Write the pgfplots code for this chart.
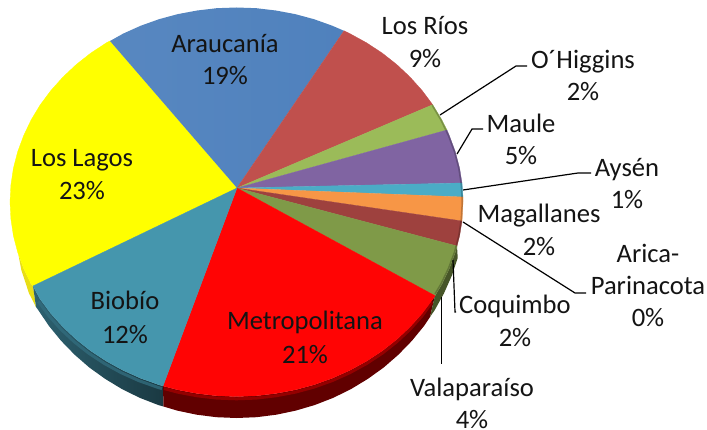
\documentclass[border=0pt]{standalone}
\usepackage{pgfplots}
\pgfplotsset{compat=1.18}
\usepackage{fontspec}
\setmainfont{Carlito}
\definecolor{cBlue}{HTML}{4F81BD}
\definecolor{cRed}{HTML}{C0504D}
\definecolor{cLgreen}{HTML}{9BBB59}
\definecolor{cPurple}{HTML}{8064A2}
\definecolor{cTeal}{HTML}{4BACC6}
\definecolor{cOrange}{HTML}{F79646}
\definecolor{cBrown}{HTML}{9E413E}
\definecolor{cOlive}{HTML}{7F9A48}
\definecolor{cBio}{HTML}{4596AD}
\definecolor{cMet}{HTML}{FF0404}
\definecolor{cYel}{HTML}{FFFF00}
\newcommand{\lab}[3]{\node[anchor=base,yshift=-1.5pt,font=\fontsize{26.6}{26.6}\selectfont,inner sep=0pt,text=black!92] at (axis cs:#1,#2) {#3};}
\begin{document}
\begin{tikzpicture}
\begin{axis}[scale only axis,width=707pt,height=430pt,axis lines=none,
  xmin=0,xmax=707,ymin=0,ymax=430,y dir=reverse,clip=false]
\path (axis cs:0,0) rectangle (axis cs:707,430);
% sides
\addplot[fill=yellow!90!black,draw=none] coordinates {(18.5,255)(21.3,270)(29.0,293.3)(36,307)(33,286)(31.2,284.2)(23.7,268.5)} --cycle;
\addplot[left color=cBio!65!black,right color=cBio!38!black,draw=none] coordinates {(33,286)(36,307)(38.2,310.0)(48.9,325.9)(61.1,340.8)(74.6,354.7)(89.3,367.5)(105.2,378.9)(122.0,389.1)(139.7,397.8)(158.2,405.0)(163.5,406.5)(163,386)(159.0,384.8)(140.8,378.3)(123.2,370.4)(106.6,361.3)(90.9,351.0)(76.3,339.5)(63.0,327.0)(51.0,313.6)(40.3,299.3)} --cycle;
\addplot[fill=red!38!black,draw=none] coordinates {(163,386)(163.5,406.5)(177.2,410.6)(196.7,414.7)(216.5,417.2)(236.5,418)(256.5,417.2)(276.3,414.7)(295.8,410.6)(314.8,405.0)(333.3,397.8)(351.0,389.1)(367.8,378.9)(383.7,367.5)(398.4,354.7)(411.9,340.8)(424.1,325.9)(430,317)(435,295.7)(432.7,299.3)(422.0,313.6)(410.0,327.0)(396.7,339.5)(382.1,351.0)(366.4,361.3)(349.8,370.4)(332.2,378.3)(314.0,384.8)(295.1,389.9)(275.8,393.5)(256.3,395.8)(236.5,396.5)(216.7,395.8)(197.2,393.5)(177.9,389.9)} --cycle;
\addplot[fill=cOlive!55!black,draw=none] coordinates {(435,295.7)(430,317)(434.8,310.0)(444.0,293.3)(451.7,275.9)(457.7,257.9)(457,246)(455.3,252.3)(449.3,268.5)(441.8,284.2)} --cycle;
% bevel bands on the sides
\addplot[draw=cBio!72!black,line width=3pt,opacity=.8] coordinates {(38.5,301.5)(49.0,315.9)(61.0,329.3)(74.3,341.8)(88.9,353.3)(104.6,363.6)(121.2,372.7)(138.8,380.6)(157.0,387.1)(162,388.6)};
\addplot[draw=red!62!black,line width=3pt,opacity=.85] coordinates {(164,388.5)(177.9,392.2)(197.2,395.8)(216.7,398.1)(236.5,398.8)(256.3,398.1)(275.8,395.8)(295.1,392.2)(314.0,387.1)(332.2,380.6)(349.8,372.7)(366.4,363.6)(382.1,353.3)(396.7,341.8)(410.0,329.3)(422.0,315.9)(432,302)};
% top surface
\addplot[fill=cYel,draw=cYel,line width=.3pt] coordinates {(237,188)(33,286)(31.2,284.2)(23.7,268.5)(17.7,252.3)(13.4,235.8)(10.9,219.0)(10.0,202.0)(10.9,185.0)(13.4,168.2)(17.7,151.7)(23.7,135.5)(31.2,119.8)(40.3,104.7)(51.0,90.4)(63.0,77.0)(76.3,64.5)(90.9,53.0)(106.6,42.7)(110,41)} --cycle;
\addplot[left color=cBlue!95!white,right color=cBlue,draw=none] coordinates {(237,188)(110,41)(123.2,33.6)(140.8,25.7)(159.0,19.2)(177.9,14.1)(197.2,10.5)(216.7,8.2)(236.5,7.5)(256.3,8.2)(275.8,10.5)(295.1,14.1)(314.0,19.2)(332.2,25.7)(344,30.8)} --cycle;
\addplot[fill=cRed,draw=cRed,line width=.3pt] coordinates {(237,188)(344,30.8)(349.8,33.6)(366.4,42.7)(382.1,53.0)(396.7,64.5)(410.0,77.0)(422.0,90.4)(432.7,104.7)} --cycle;
\addplot[fill=cLgreen,draw=cLgreen,line width=.3pt] coordinates {(237,188)(432.7,104.7)(441.8,119.8)(447,130)} --cycle;
\addplot[fill=cPurple,draw=cPurple,line width=.3pt] coordinates {(237,188)(447,130)(449.3,135.5)(455.3,151.7)(459.6,168.2)(462,183)} --cycle;
\addplot[fill=cTeal,draw=cTeal,line width=.3pt] coordinates {(237,188)(462,183)(463,197)} --cycle;
\addplot[fill=cOrange,draw=cOrange,line width=.3pt] coordinates {(237,188)(463,197)(463.0,202.0)(462.1,219.0)(462,221)} --cycle;
\addplot[fill=cBrown,draw=cBrown,line width=.3pt] coordinates {(237,188)(462,221)(459.6,235.8)(457,246)} --cycle;
\addplot[fill=cOlive,draw=cOlive,line width=.3pt] coordinates {(237,188)(457,246)(455.3,252.3)(449.3,268.5)(441.8,284.2)(435,295.7)} --cycle;
\addplot[fill=cMet,draw=cMet,line width=.3pt] coordinates {(237,188)(435,295.7)(432.7,299.3)(422.0,313.6)(410.0,327.0)(396.7,339.5)(382.1,351.0)(366.4,361.3)(349.8,370.4)(332.2,378.3)(314.0,384.8)(295.1,389.9)(275.8,393.5)(256.3,395.8)(236.5,396.5)(216.7,395.8)(197.2,393.5)(177.9,389.9)(163,386)} --cycle;
\addplot[fill=cBio,draw=cBio,line width=.3pt] coordinates {(237,188)(163,386)(159.0,384.8)(140.8,378.3)(123.2,370.4)(106.6,361.3)(90.9,351.0)(76.3,339.5)(63.0,327.0)(51.0,313.6)(40.3,299.3)(33,286)} --cycle;
% rim shading on the right edge
\addplot[draw=black,opacity=.22,line width=1.6pt] coordinates {(432.2,105.2)(441.1,120.2)(448.6,135.8)(454.6,151.9)(458.9,168.3)(461.4,185.1)(462.3,202)(461.4,218.9)(458.9,235.7)(454.6,252.1)(448.6,268.2)(441.1,283.8)(435,294)};
% leader lines
\addplot[black,line width=1.2pt] coordinates {(440,115)(516,66)(527,66)};
\addplot[black,line width=1.2pt] coordinates {(457,154)(472,129)(483,129)};
\addplot[black,line width=1.2pt] coordinates {(463,190)(578,173)(591,173)};
\addplot[black,line width=1.2pt] coordinates {(463,222)(575,293)(586,293)};
\addplot[black,line width=1.2pt] coordinates {(453,260)(455,312)(456,312)};
\addplot[black,line width=1.2pt] coordinates {(441.5,297)(441.5,364)};
% labels
\lab{225}{51}{Araucanía}\lab{225}{83}{19\%}
\lab{425}{33}{Los Ríos}\lab{425}{66}{9\%}
\lab{583}{67}{O´Higgins}\lab{583}{99}{2\%}
\lab{521}{131}{Maule}\lab{521}{163}{5\%}
\lab{627}{175}{Aysén}\lab{627}{207}{1\%}
\lab{539}{221}{Magallanes}\lab{539}{254}{2\%}
\lab{648}{261}{Arica-}\lab{648}{293}{Parinacota}\lab{648}{325}{0\%}
\lab{515}{312}{Coquimbo}\lab{515}{345}{2\%}
\lab{472}{395}{Valaparaíso}\lab{472}{426.5}{4\%}
\lab{82}{165}{Los Lagos}\lab{82}{198}{23\%}
\lab{125}{308}{Biobío}\lab{125}{342}{12\%}
\lab{305}{328}{Metropolitana}\lab{305}{362}{21\%}
\end{axis}
\end{tikzpicture}
\end{document}
